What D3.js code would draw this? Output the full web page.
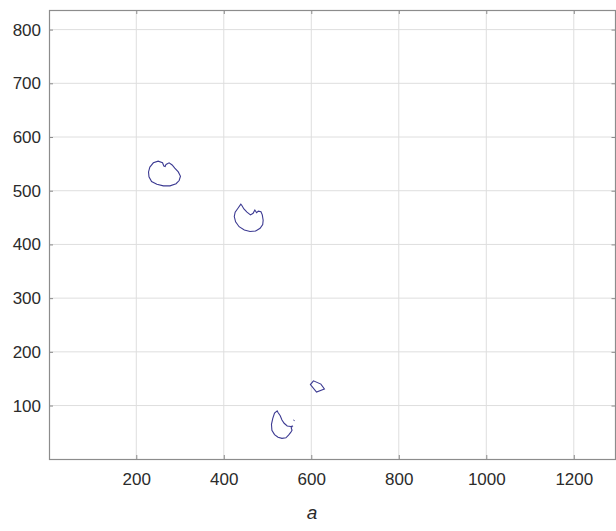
<!DOCTYPE html>
<html>
<head>
<meta charset="utf-8">
<script src="https://cdn.jsdelivr.net/npm/d3@7"></script>
<style>
  body { margin: 0; background: #fff; }
  svg { display: block; font-family: "Liberation Sans", Arial, sans-serif; }
</style>
</head>
<body>
<svg id="chart" width="616" height="531"></svg>
<script>
// axis extents (pixel-image style axes) and tick values
const xDomain = [0.5, 1296.5];
const yDomain = [0.5, 836.5];
const xTicks = [200, 400, 600, 800, 1000, 1200];
const yTicks = [100, 200, 300, 400, 500, 600, 700, 800];
const caption = "a";

// traced contours [x, y]
const contour1 = [[231,544],[239,552],[250,555],[260,552],[263,546],[266,545],[268,549],[275,552],[282,548],[288,542],[296,535],[301,527],[298,519],[291,513],[277,509],[262,509],[247,512],[235,517],[229,526],[228,535]];
const contour2 = [[439,475],[432,467],[426,460],[424,452],[427,442],[435,433],[447,427],[460,424],[473,425],[483,430],[489,437],[490,445],[488,455],[485,461],[479,462],[475,459],[471,464],[467,458],[461,455],[453,460],[446,466],[441,473]];
const contour3 = [[605,146],[598,139],[612,125],[630,131],[622,140]];
const contour4 = [[522,90],[516,86],[512,76],[509,65],[510,54],[516,46],[524,41],[533,39],[542,40],[548,45],[553,50],[556,54],[554,59],[558,62],[553,61],[545,62],[538,67],[533,73],[529,81],[524,87]];
const contour5 = [[560,72],[561,73]];

const contours = [contour1, contour2, contour3, contour4];

const svg = d3.select("#chart");
const m = { left: 49, right: 616, top: 10, bottom: 459 };

const x = d3.scaleLinear().domain(xDomain).range([m.left, m.right]);
const y = d3.scaleLinear().domain(yDomain).range([m.bottom, m.top]);

const axisColor = "#8c8c8c";
const textColor = "#2b2b2b";

// grid
const grid = svg.append("g");
grid.selectAll(".gx").data(xTicks).join("line")
  .attr("x1", d => x(d)).attr("x2", d => x(d))
  .attr("y1", m.top).attr("y2", m.bottom)
  .attr("stroke", "#dedede").attr("stroke-width", 1);
grid.selectAll(".gy").data(yTicks).join("line")
  .attr("x1", m.left).attr("x2", m.right)
  .attr("y1", d => y(d)).attr("y2", d => y(d))
  .attr("stroke", "#dedede").attr("stroke-width", 1);

// contours
const line = d3.line().x(d => x(d[0])).y(d => y(d[1]));
svg.append("g").selectAll("path").data(contours).join("path")
  .attr("d", d => line(d) + "Z")
  .attr("fill", "none")
  .attr("stroke", "#3c3a92")
  .attr("stroke-width", 1.1);
svg.append("path")
  .attr("d", line(contour5))
  .attr("fill", "none").attr("stroke", "#3c3a92").attr("stroke-width", 2);

// axes: ticks inward on all four sides
const tl = 4;
const fmt = d3.format("d");
const styleAxis = (g) => {
  g.select(".domain").remove();
  g.selectAll(".tick line").attr("stroke", axisColor);
  g.selectAll(".tick text").attr("fill", textColor).attr("font-size", 17);
};
svg.append("g").attr("transform", `translate(0,${m.bottom})`)
  .call(d3.axisBottom(x).tickValues(xTicks).tickFormat(fmt).tickSizeInner(-tl).tickSizeOuter(0).tickPadding(14))
  .call(styleAxis);
svg.append("g").attr("transform", `translate(0,${m.top})`)
  .call(d3.axisTop(x).tickValues(xTicks).tickSizeInner(-tl).tickSizeOuter(0).tickFormat(""))
  .call(styleAxis);
svg.append("g").attr("transform", `translate(${m.left},0)`)
  .call(d3.axisLeft(y).tickValues(yTicks).tickFormat(fmt).tickSizeInner(-tl).tickSizeOuter(0).tickPadding(8))
  .call(styleAxis);
svg.append("g").attr("transform", `translate(${m.right - 0.5},0)`)
  .call(d3.axisRight(y).tickValues(yTicks).tickSizeInner(-tl).tickSizeOuter(0).tickFormat(""))
  .call(styleAxis);

// box
svg.append("rect")
  .attr("x", m.left + 0.5).attr("y", m.top + 0.5)
  .attr("width", m.right - m.left - 1).attr("height", m.bottom - m.top)
  .attr("fill", "none").attr("stroke", axisColor).attr("stroke-width", 1.2);

// caption
svg.append("text")
  .attr("x", 312).attr("y", 519)
  .attr("text-anchor", "middle")
  .attr("font-size", 19).attr("font-style", "italic")
  .attr("fill", textColor)
  .text(caption);
</script>
</body>
</html>
